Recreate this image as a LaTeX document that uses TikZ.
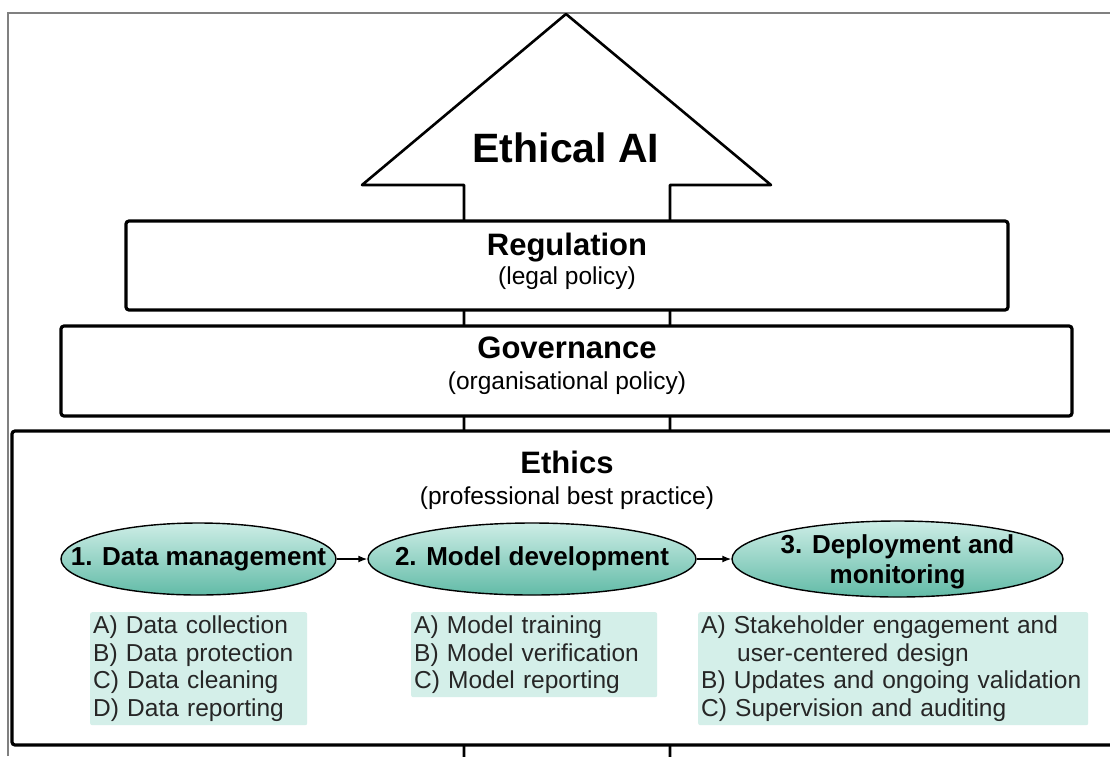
\documentclass[tikz,border=0pt]{standalone}
\usepackage{fontspec}
\setmainfont{Liberation Sans}
\usetikzlibrary{shapes.geometric,arrows.meta}

\definecolor{phasetop}{RGB}{205,237,230}
\definecolor{phasebot}{RGB}{98,187,167}
\definecolor{listfill}{RGB}{212,239,233}
\definecolor{framegray}{RGB}{128,128,128}

\tikzset{
    layerbox/.style={draw, fill=white, line width=3.2pt, rounded corners=3pt, inner sep=0pt},
    layerhead/.style={font=\fontsize{31}{35}\selectfont\bfseries, anchor=base, inner sep=0pt},
    layersub/.style={font=\fontsize{24.5}{28}\selectfont, anchor=base, inner sep=0pt},
    phase/.style={ellipse, draw, line width=1.4pt, top color=phasetop, bottom color=phasebot, inner sep=0pt},
    phasetext/.style={font=\fontsize{26}{30}\selectfont\bfseries, align=center, inner sep=0pt},
    steplist/.style={fill=listfill, rounded corners=2pt, anchor=north west, align=left,
        font=\fontsize{24.5}{27.5}\selectfont, text=black!85, inner xsep=3pt, inner ysep=0pt},
    flow/.style={-{Latex[length=9pt,width=7pt]}, line width=1.4pt}
}

\begin{document}
\begin{tikzpicture}[x=1pt, y=-1pt]
        \useasboundingbox (0,0) rectangle (1110,756);
        \clip (0,0) rectangle (1110,756);

        % ~~~~ Marco ~~~~ %
        \draw[framegray, line width=1.6pt] (8,756) -- (8,13) -- (1112,13);

        % ~~~~ Flecha ~~~~ %
        \draw[line width=2.6pt, line join=round]
            (566,14) -- (771,185) -- (670,185) -- (670,800) -- (464,800) -- (464,185) -- (362,185) -- cycle;
        \node[font=\fontsize{41}{45}\selectfont\bfseries, anchor=base, inner sep=0pt] (ai) at (566,162) {Ethical AI};

        % ~~~~ Capas ~~~~ %
        \node[layerbox, minimum width=882, minimum height=89] (reg) at (567,265.5) {};
        \node[layerhead] (regt) at (567,255) {Regulation};
        \node[layersub] (regs) at (567,284) {(legal policy)};

        \node[layerbox, minimum width=1011, minimum height=90] (gov) at (566.5,371) {};
        \node[layerhead] (govt) at (567,358) {Governance};
        \node[layersub] (govs) at (567,389) {(organisational policy)};

        \node[layerbox, minimum width=1110, minimum height=314] (eth) at (567,588) {};
        \node[layerhead] (etht) at (567,473) {Ethics};
        \node[layersub] (eths) at (567,504) {(professional best practice)};

        % ~~~~ Etapas ~~~~ %
        \node[phase, minimum width=275, minimum height=72] (dm) at (198.5,559) {};
        \node[phasetext] (dmt) at (dm) {1. Data management};
        \node[phase, minimum width=328, minimum height=72] (md) at (532,559) {};
        \node[phasetext] (mdt) at (md) {2. Model development};
        \node[phase, minimum width=331, minimum height=76] (dep) at (897.5,559) {};
        \node[phasetext] (dept) at ([yshift=-3pt]dep.center) {3. Deployment and\\monitoring};

        \draw[flow] (dm) -- (md);
        \draw[flow] (md) -- (dep);

        % ~~~~ Listas ~~~~ %
        \node[steplist, text width=211, minimum height=113] (dml) at (90,612)
            {A) Data collection\\B) Data protection\\C) Data cleaning\\D) Data reporting};
        \node[steplist, text width=240, minimum height=85] (mdl) at (411,612)
            {A) Model training\\B) Model verification\\C) Model reporting};
        \node[steplist, text width=384, minimum height=113] (depl) at (698,612)
            {A) Stakeholder engagement and\\\hspace*{36pt}user-centered design\\B) Updates and ongoing validation\\C) Supervision and auditing};
    \end{tikzpicture}
\end{document}
